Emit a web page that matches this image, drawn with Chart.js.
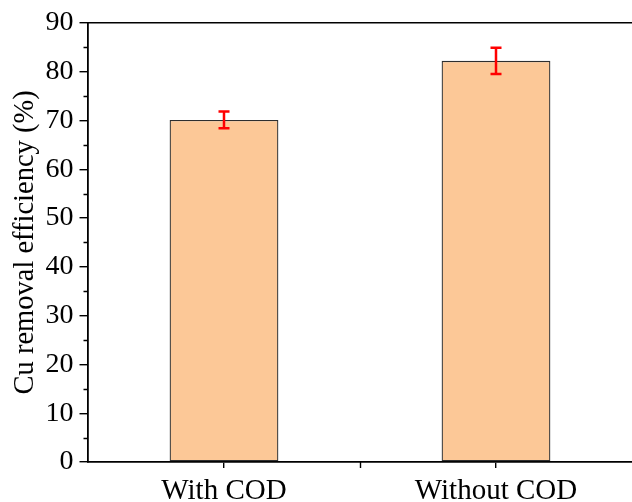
<!DOCTYPE html>
<html>
<head>
<meta charset="utf-8">
<script src="https://cdn.jsdelivr.net/npm/chart.js@4.4.0/dist/chart.umd.min.js"></script>
<style>
  html, body { margin: 0; padding: 0; background: #fff; }
  canvas { display: block; }
</style>
</head>
<body>
<canvas id="c" width="632" height="502"></canvas>
<script>
const categories = ['With COD', 'Without COD'];
const removalEfficiency = [70.1, 82.2];
const errorValues = [1.7, 2.7];
const yTickMax = 90;
const yTickStep = 10;
const yMinorStep = 5;

const FONT = '"Liberation Serif", "Times New Roman", serif';

const decorPlugin = {
  id: 'decor',
  afterDatasetsDraw(chart) {
    const ctx = chart.ctx;
    const y = chart.scales.y;
    const meta = chart.getDatasetMeta(0);
    ctx.save();
    ctx.strokeStyle = '#ff0000';
    ctx.lineWidth = 2.5;
    meta.data.forEach((bar, i) => {
      const v = removalEfficiency[i];
      const e = errorValues[i];
      const yt = y.getPixelForValue(v + e);
      const yb = y.getPixelForValue(v - e);
      const x = bar.x;
      const cap = 5.5;
      ctx.beginPath();
      ctx.moveTo(x, yt); ctx.lineTo(x, yb);
      ctx.moveTo(x - cap, yt); ctx.lineTo(x + cap, yt);
      ctx.moveTo(x - cap, yb); ctx.lineTo(x + cap, yb);
      ctx.stroke();
    });
    ctx.restore();
  },
  afterDraw(chart) {
    const ctx = chart.ctx;
    const a = chart.chartArea;
    const y = chart.scales.y;
    const x = chart.scales.x;
    ctx.save();
    ctx.strokeStyle = '#000';
    ctx.lineWidth = 1.6;
    ctx.beginPath();
    ctx.moveTo(a.left, a.top);
    ctx.lineTo(a.right, a.top);
    ctx.stroke();
    ctx.lineWidth = 1.4;
    ctx.beginPath();
    for (let v = yMinorStep; v < yTickMax; v += yTickStep) {
      const py = Math.round(y.getPixelForValue(v)) + 0.5;
      ctx.moveTo(a.left, py);
      ctx.lineTo(a.left - 4.5, py);
    }
    for (let i = 0; i < categories.length - 1; i++) {
      const px = Math.round((x.getPixelForValue(i) + x.getPixelForValue(i + 1)) / 2) + 0.5;
      ctx.moveTo(px, a.bottom);
      ctx.lineTo(px, a.bottom + 6);
    }
    ctx.stroke();
    ctx.restore();
  }
};

new Chart(document.getElementById('c'), {
  type: 'bar',
  data: {
    labels: categories,
    datasets: [{
      data: removalEfficiency,
      backgroundColor: '#fcc897',
      borderColor: '#2e2e2e',
      borderWidth: 1.3,
      borderSkipped: false,
      categoryPercentage: 0.8,
      barPercentage: 0.5
    }]
  },
  options: {
    responsive: false,
    animation: false,
    layout: { padding: { left: 0, top: 22, right: 0, bottom: 0 } },
    plugins: { legend: { display: false }, tooltip: { enabled: false } },
    scales: {
      x: {
        offset: true,
        grid: { display: true, drawOnChartArea: false, drawTicks: true, tickLength: 6, color: '#000', lineWidth: 1.4, offset: false },
        border: { display: true, color: '#000', width: 1.8 },
        ticks: { color: '#000', font: { family: FONT, size: 29 }, padding: 6, maxRotation: 0 },
        afterFit(s) { s.height = 40; }
      },
      y: {
        min: 0,
        max: yTickMax,
        grid: { display: true, drawOnChartArea: false, drawTicks: true, tickLength: 8.5, color: '#000', lineWidth: 1.4 },
        border: { display: true, color: '#000', width: 1.8 },
        ticks: { stepSize: yTickStep, color: '#000', font: { family: FONT, size: 28 }, padding: 6 },
        title: { display: true, text: 'Cu removal efficiency (%)', color: '#000', font: { family: FONT, size: 28.5 }, padding: { top: 8, bottom: 0 } },
        afterFit(s) { s.width = 88; }
      }
    }
  },
  plugins: [decorPlugin]
});
</script>
</body>
</html>
